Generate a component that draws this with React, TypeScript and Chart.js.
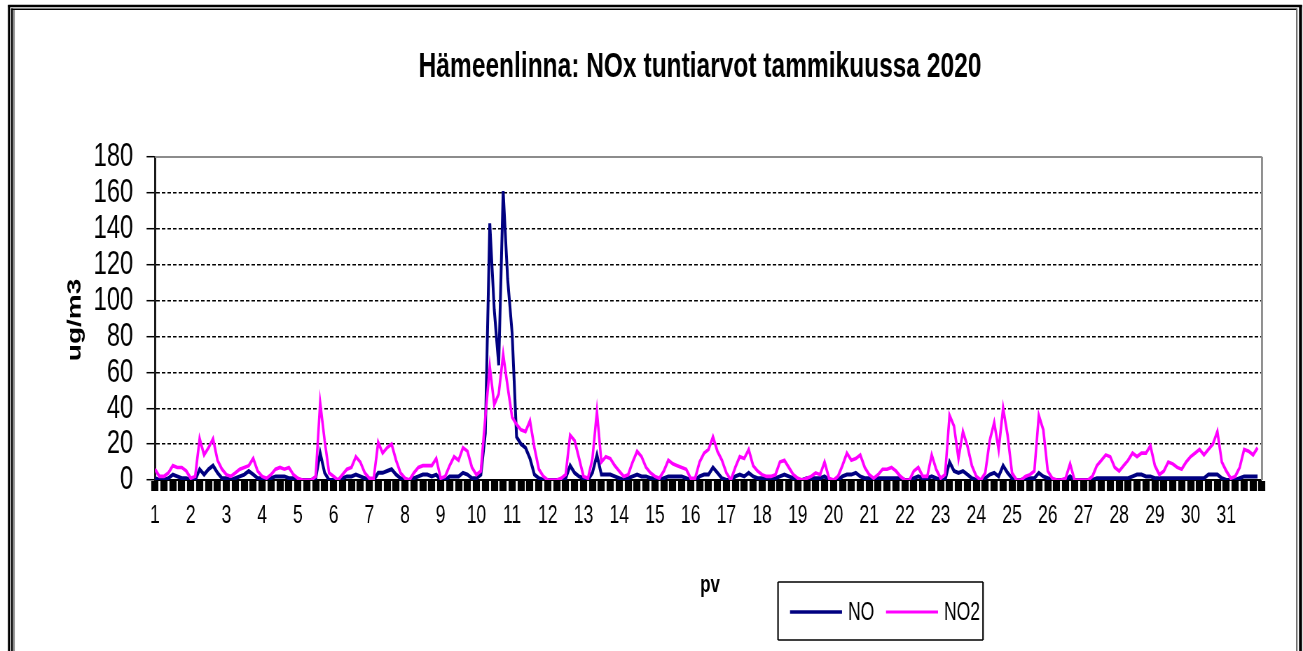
import { useEffect, useRef } from 'react';
import { Chart, registerables } from 'chart.js';

Chart.register(...registerables);

// ---------- data ----------
const TITLE = 'Hämeenlinna: NOx tuntiarvot tammikuussa 2020';
const Y_TITLE = 'ug/m3';
const X_TITLE = 'pv';
const SERIES_NAMES = ['NO', 'NO2'];
const SERIES_COLORS = ['#000080', '#FF00FF'];
const DAY_LABELS = [
  '1', '2', '3', '4', '5', '6', '7', '8', '9', '10', '11', '12', '13', '14', '15', '16',
  '17', '18', '19', '20', '21', '22', '23', '24', '25', '26', '27', '28', '29', '30', '31',
];
const Y_TICKS = [0, 20, 40, 60, 80, 100, 120, 140, 160, 180];
const STEP_HOURS = 3; // values every 3 hours

// NO, ug/m3, 8 readings per day (00, 03, ..., 21 h)
const NO = [
  1, 0, 0, 1, 3, 2, 1, 1, // 1
  0, 0, 6, 3, 6, 8, 4, 1, // 2
  1, 0, 1, 2, 3, 5, 3, 1, // 3
  1, 0, 1, 2, 2, 2, 1, 1, // 4
  0, 0, 0, 0, 1, 15, 4, 0, // 5
  0, 0, 1, 2, 2, 3, 2, 1, // 6
  0, 0, 4, 4, 5, 6, 3, 1, // 7
  0, 0, 1, 2, 3, 3, 2, 3, // 8
  0, 0, 2, 2, 2, 4, 3, 1, // 9
  1, 3, 26, 143, 95, 64, 161, 112, // 10
  82, 24, 20, 18, 12, 3, 1, 0, // 11
  0, 0, 0, 0, 1, 8, 4, 2, // 12
  1, 0, 4, 14, 3, 3, 3, 2, // 13
  1, 0, 1, 2, 3, 2, 2, 1, // 14
  1, 0, 1, 2, 2, 2, 2, 1, // 15
  0, 0, 2, 3, 3, 7, 4, 1, // 16
  0, 0, 2, 3, 2, 4, 2, 1, // 17
  1, 1, 1, 1, 2, 3, 2, 1, // 18
  0, 0, 1, 1, 1, 1, 2, 0, // 19
  0, 0, 2, 3, 3, 4, 2, 1, // 20
  1, 0, 1, 1, 1, 1, 1, 1, // 21
  0, 0, 1, 2, 1, 1, 2, 1, // 22
  0, 0, 10, 5, 4, 5, 3, 1, // 23
  0, 0, 1, 3, 4, 2, 8, 4, // 24
  1, 0, 0, 1, 1, 1, 4, 2, // 25
  1, 0, 0, 0, 0, 2, 0, 0, // 26
  0, 0, 0, 1, 1, 1, 1, 1, // 27
  1, 1, 1, 2, 3, 3, 2, 2, // 28
  1, 1, 1, 1, 1, 1, 1, 1, // 29
  1, 1, 1, 1, 3, 3, 3, 1, // 30
  0, 0, 0, 1, 2, 2, 2, 2, // 31
];

// NO2, ug/m3, 8 readings per day (00, 03, ..., 21 h)
const NO2 = [
  6, 2, 2, 4, 8, 7, 7, 5, // 1
  1, 2, 23, 14, 18, 23, 11, 6, // 2
  3, 2, 4, 6, 7, 8, 12, 5, // 3
  2, 1, 3, 6, 7, 6, 7, 3, // 4
  1, 0, 0, 0, 2, 43, 22, 4, // 5
  2, 0, 3, 6, 7, 13, 10, 4, // 6
  1, 1, 21, 15, 18, 20, 11, 4, // 7
  1, 0, 4, 7, 8, 8, 8, 12, // 8
  1, 2, 8, 13, 11, 18, 16, 7, // 9
  3, 5, 35, 63, 42, 48, 70, 52, // 10
  35, 31, 28, 27, 33, 18, 6, 2, // 11
  0, 0, 0, 1, 3, 25, 22, 12, // 12
  2, 1, 12, 38, 10, 13, 12, 8, // 13
  5, 2, 3, 10, 16, 13, 7, 4, // 14
  2, 1, 5, 11, 9, 8, 7, 6, // 15
  1, 1, 10, 15, 17, 24, 16, 11, // 16
  4, 0, 7, 13, 12, 17, 8, 5, // 17
  3, 2, 2, 3, 10, 11, 7, 3, // 18
  1, 0, 1, 2, 4, 3, 10, 1, // 19
  0, 2, 8, 15, 11, 12, 14, 7, // 20
  3, 1, 3, 6, 6, 7, 5, 2, // 21
  0, 0, 5, 7, 2, 2, 14, 6, // 22
  1, 3, 36, 30, 12, 27, 19, 8, // 23
  2, 0, 4, 22, 32, 17, 40, 25, // 24
  4, 0, 0, 2, 3, 5, 36, 28, // 25
  5, 1, 0, 0, 1, 9, 0, 0, // 26
  0, 0, 2, 8, 11, 14, 13, 7, // 27
  5, 8, 11, 15, 13, 15, 15, 19, // 28
  8, 3, 5, 10, 9, 7, 6, 10, // 29
  13, 15, 17, 14, 17, 20, 27, 10, // 30
  5, 1, 2, 7, 17, 16, 14, 18, // 31
];

// ---------- layout ----------
const PAGE_W = 1303;
const PAGE_H = 651;
const W = 1860; // drawing width, squeezed horizontally to the page width
const S = PAGE_W / W;
const sx = (x: number) => x / S; // page x -> drawing x
const FONT = '"Liberation Sans", Arial, sans-serif';

const toPoints = (arr: number[]) => arr.map((v, i) => ({ x: (i * STEP_HOURS) / 24, y: v }));

const decor = {
  id: 'decor',
  afterDraw(chart: any) {
    const ctx: CanvasRenderingContext2D = chart.ctx;
    const { left, right, top, bottom } = chart.chartArea;
    const hline = (x1: number, x2: number, y: number, w: number, c: string) => {
      ctx.beginPath();
      ctx.strokeStyle = c;
      ctx.lineWidth = w;
      ctx.moveTo(sx(x1), y);
      ctx.lineTo(sx(x2), y);
      ctx.stroke();
    };
    const vline = (x: number, y1: number, y2: number, w: number, c: string) => {
      ctx.beginPath();
      ctx.strokeStyle = c;
      ctx.lineWidth = w / S;
      ctx.moveTo(sx(x), y1);
      ctx.lineTo(sx(x), y2);
      ctx.stroke();
    };
    ctx.save();
    // outer frame (double line)
    hline(8, 1302, 6, 2.5, '#000');
    vline(9, 5, PAGE_H, 2.2, '#000');
    vline(1300.5, 5, PAGE_H, 3, '#000');
    hline(11, 1297, 9.2, 1.6, '#000');
    vline(12, 8.5, PAGE_H, 1.8, '#000');
    vline(14, 10, PAGE_H, 1.5, '#888');
    vline(1296.8, 8.5, PAGE_H, 1.5, '#666');

    // plot border (top / right)
    ctx.beginPath();
    ctx.strokeStyle = '#8c8c8c';
    ctx.lineWidth = 2;
    ctx.moveTo(left, top);
    ctx.lineTo(right, top);
    ctx.stroke();
    ctx.beginPath();
    ctx.lineWidth = 2 / S;
    ctx.moveTo(right, top);
    ctx.lineTo(right, bottom);
    ctx.stroke();

    ctx.fillStyle = '#000';
    // title
    ctx.font = `bold 35px ${FONT}`;
    ctx.textAlign = 'center';
    ctx.textBaseline = 'alphabetic';
    ctx.fillText(TITLE, sx(700), 77);

    // y title
    ctx.save();
    ctx.translate(sx(75), 320);
    ctx.rotate(-Math.PI / 2);
    ctx.font = `bold 28px ${FONT}`;
    ctx.textAlign = 'center';
    ctx.textBaseline = 'middle';
    ctx.fillText(Y_TITLE, 0, 0);
    ctx.restore();

    // x title
    ctx.font = `bold 24px ${FONT}`;
    ctx.textAlign = 'center';
    ctx.textBaseline = 'alphabetic';
    ctx.fillText(X_TITLE, sx(710), 592);

    // legend
    const bx1 = sx(778), bx2 = sx(983), by1 = 582, by2 = 640;
    ctx.strokeStyle = '#000';
    ctx.lineWidth = 1.5;
    ctx.beginPath();
    ctx.moveTo(bx1, by1); ctx.lineTo(bx2, by1);
    ctx.moveTo(bx1, by2); ctx.lineTo(bx2, by2);
    ctx.stroke();
    ctx.lineWidth = 1.5 / S;
    ctx.beginPath();
    ctx.moveTo(bx1, by1); ctx.lineTo(bx1, by2);
    ctx.moveTo(bx2, by1); ctx.lineTo(bx2, by2);
    ctx.stroke();

    const ly = 612;
    const entries = [
      { l1: 790, l2: 842, tx: 848, w: 3.5 },
      { l1: 886, l2: 938, tx: 944, w: 3 },
    ];
    ctx.font = `25px ${FONT}`;
    ctx.textAlign = 'left';
    ctx.textBaseline = 'middle';
    entries.forEach((e, i) => {
      ctx.beginPath();
      ctx.strokeStyle = SERIES_COLORS[i];
      ctx.lineWidth = e.w;
      ctx.moveTo(sx(e.l1), ly);
      ctx.lineTo(sx(e.l2), ly);
      ctx.stroke();
      ctx.fillStyle = '#000';
      ctx.fillText(SERIES_NAMES[i], sx(e.tx), ly + 1);
    });
    ctx.restore();
  },
};

export default function App() {
  const ref = useRef<HTMLCanvasElement>(null);

  useEffect(() => {
    if (!ref.current) return;
    const chart = new Chart(ref.current, {
      type: 'line',
      data: {
        datasets: [
          {
            label: SERIES_NAMES[0],
            data: toPoints(NO),
            borderColor: SERIES_COLORS[0],
            backgroundColor: SERIES_COLORS[0],
            borderWidth: 4,
            pointRadius: 0,
            tension: 0,
            order: 1,
          },
          {
            label: SERIES_NAMES[1],
            data: toPoints(NO2),
            borderColor: SERIES_COLORS[1],
            backgroundColor: SERIES_COLORS[1],
            borderWidth: 3.6,
            pointRadius: 0,
            tension: 0,
            order: 0,
          },
        ],
      },
      options: {
        responsive: false,
        animation: false,
        events: [],
        layout: { padding: { top: 157, right: W - sx(1262), left: 0, bottom: 0 } },
        plugins: {
          legend: { display: false },
          title: { display: false },
          tooltip: { enabled: false },
        },
        scales: {
          x: {
            type: 'linear',
            min: 0,
            max: DAY_LABELS.length,
            afterBuildTicks: (scale: any) => {
              scale.ticks = Array.from({ length: DAY_LABELS.length * 4 + 1 }, (_, i) => ({ value: i / 4 }));
            },
            afterFit: (scale: any) => {
              scale.height = PAGE_H - 480;
            },
            ticks: {
              autoSkip: false,
              maxRotation: 0,
              minRotation: 0,
              padding: 10,
              color: '#000',
              font: { family: FONT, size: 25 },
              callback: (v: any) => {
                const n = Number(v);
                return Number.isInteger(n) && n < DAY_LABELS.length ? DAY_LABELS[n] : '';
              },
            },
            grid: {
              display: true,
              drawOnChartArea: false,
              drawTicks: true,
              tickLength: 11,
              tickWidth: 10.2,
              tickColor: '#000',
              lineWidth: 0,
            },
            border: { display: true, color: '#000', width: 2 },
          },
          y: {
            type: 'linear',
            min: 0,
            max: 180,
            afterBuildTicks: (scale: any) => {
              scale.ticks = Y_TICKS.map((v) => ({ value: v }));
            },
            afterFit: (scale: any) => {
              scale.width = sx(155);
            },
            ticks: {
              autoSkip: false,
              color: '#000',
              padding: 19,
              font: { family: FONT, size: 34 },
            },
            grid: {
              color: (c: any) =>
                c.tick && (c.tick.value === 0 || c.tick.value === 180) ? 'rgba(0,0,0,0)' : '#000',
              lineWidth: 1.4,
              tickColor: '#000',
              tickLength: 12,
              tickWidth: 1.5,
            },
            border: { display: true, color: '#1a1a1a', width: 3, dash: [5, 3] },
          },
        },
      },
      plugins: [decor],
    } as any);
    return () => chart.destroy();
  }, []);

  return (
    <div
      style={{
        position: 'fixed',
        left: 0,
        top: 0,
        width: PAGE_W,
        height: PAGE_H,
        overflow: 'hidden',
        background: '#fff',
      }}
    >
      <div style={{ width: W, height: PAGE_H, transform: `scaleX(${S})`, transformOrigin: '0 0' }}>
        <canvas ref={ref} width={W} height={PAGE_H} style={{ display: 'block' }} />
      </div>
    </div>
  );
}
